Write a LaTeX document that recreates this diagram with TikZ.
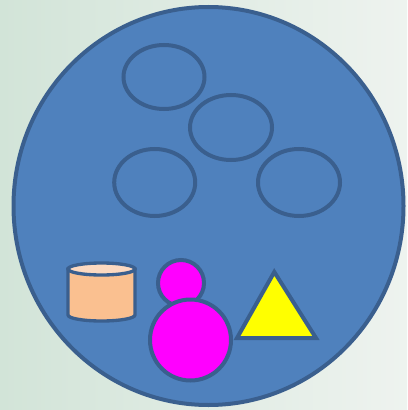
\documentclass[tikz,border=0pt]{standalone}
\usepackage{tikz}

\definecolor{bgleft}{HTML}{D2E4D8}
\definecolor{bgright}{HTML}{EEF3EF}
\definecolor{discfill}{HTML}{4F81BD}
\definecolor{discline}{HTML}{3A5F8E}
\definecolor{peach}{HTML}{FAC090}
\definecolor{peachtop}{HTML}{FCD9C0}
\definecolor{ballpink}{HTML}{FF00FF}
\definecolor{tri}{HTML}{FFFF00}

\begin{document}
\begin{tikzpicture}[x=0.75pt,y=-0.75pt,
    outline/.style={draw=discline,line width=3pt},
    ring/.style={draw=discline,line width=3pt},
    ball/.style={outline,fill=ballpink}]
    \useasboundingbox (0,0) rectangle (407,410);
    \shade[left color=bgleft,right color=bgright] (0,0) rectangle (407,410);

    % the big disc
    \draw[outline,fill=discfill] (208.5,206) ellipse [x radius=195,y radius=199];

    % four empty rings
    \draw[ring] (164,77) ellipse [x radius=40.5,y radius=32];
    \draw[ring] (231,127.5) ellipse [x radius=41,y radius=32.5];
    \draw[ring] (154.7,182.5) ellipse [x radius=40.5,y radius=33.5];
    \draw[ring] (299,182.5) ellipse [x radius=41,y radius=33.5];

    % cylinder
    \draw[outline,line width=2.5pt,fill=peach] (68,269) -- (68,315)
      arc [start angle=180,end angle=0,x radius=33.5,y radius=6] -- (135,269) -- cycle;
    \draw[outline,line width=2.5pt,fill=peachtop] (101.5,269) ellipse [x radius=33.5,y radius=6];

    % triangle
    \draw[outline,fill=tri] (274.3,272) -- (316,338) -- (237,338) -- cycle;

    % two balls
    \draw[ball] (181,283) circle [radius=23];
    \draw[ball] (190.5,340) circle [radius=40.5];
\end{tikzpicture}
\end{document}
